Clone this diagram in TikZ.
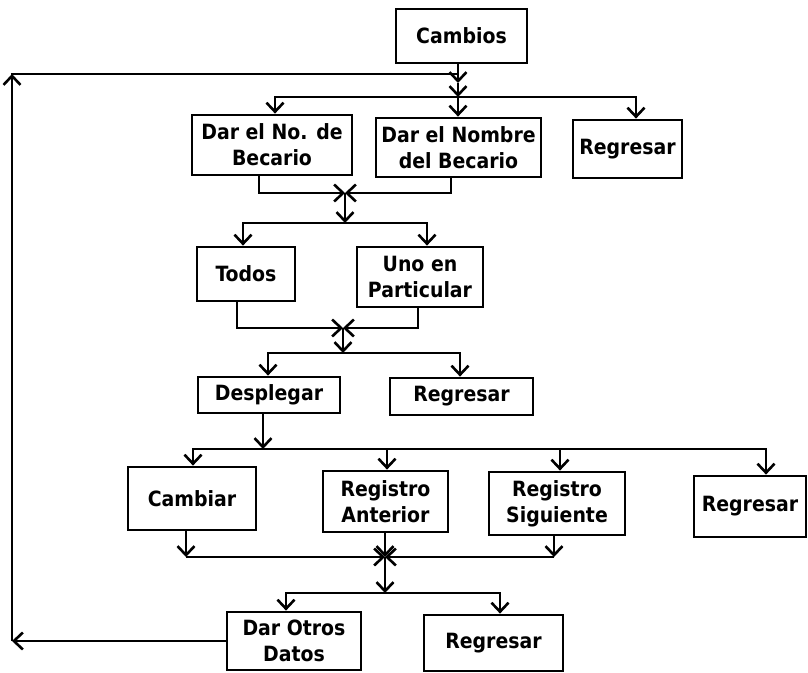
\documentclass[tikz,border=0pt]{standalone}
\usepackage{fontspec}
\setmainfont{DejaVu Sans Condensed}
\usetikzlibrary{arrows.meta}
\begin{document}
\begin{tikzpicture}[x=1pt,y=-1pt,
  box/.style={draw, line width=2.8pt, align=center, inner sep=0pt,
              font=\bfseries\fontsize{21}{26}\selectfont},
  ln/.style={line width=2.8pt, line cap=rect},
  arr/.style={line width=2.8pt, -{Straight Barb[length=9pt,width=17pt,line width=2.6pt]}}]
\useasboundingbox (0,0) rectangle (808,672);

% boxes
\node[box, minimum width=131pt, minimum height=54pt] (cam) at (461.5,36) {Cambios};
\node[box, minimum width=160pt, minimum height=60pt] (nob) at (272,145) {Dar el No. de\\Becario};
\node[box, minimum width=165pt, minimum height=59pt] (nom) at (458.5,147.5) {Dar el Nombre\\del Becario};
\node[box, minimum width=109pt, minimum height=58pt] (reg1) at (627.5,149) {Regresar};
\node[box, minimum width=98pt, minimum height=54pt] (tod) at (246,274) {Todos};
\node[box, minimum width=126pt, minimum height=60pt] (uno) at (420,277) {Uno en\\Particular};
\node[box, minimum width=142pt, minimum height=36pt] (des) at (269,395) {Desplegar};
\node[box, minimum width=143pt, minimum height=37pt] (reg2) at (461.5,396.5) {Regresar};
\node[box, minimum width=128pt, minimum height=63pt] (cbr) at (192,498.5) {Cambiar};
\node[box, minimum width=125pt, minimum height=61pt] (ant) at (385.5,501.5) {Registro\\Anterior};
\node[box, minimum width=136pt, minimum height=63pt] (sig) at (557,503.5) {Registro\\Siguiente};
\node[box, minimum width=112pt, minimum height=61pt] (reg3) at (750,506.5) {Regresar};
\node[box, minimum width=134pt, minimum height=58pt] (dod) at (294,641) {Dar Otros\\Datos};
\node[box, minimum width=139pt, minimum height=56pt] (reg4) at (493.5,643) {Regresar};

% junction points
\coordinate (J)   at (458,74);
\coordinate (Jt)  at (458,83);
\coordinate (b1)  at (458,97);
\coordinate (b1l) at (275,97);
\coordinate (b1r) at (636,97);
\coordinate (m1)  at (345,193);
\coordinate (m1l) at (259,193);
\coordinate (m1r) at (451,193);
\coordinate (b2)  at (345,223);
\coordinate (b2l) at (243,223);
\coordinate (b2r) at (427,223);
\coordinate (m2)  at (343,328);
\coordinate (m2l) at (237,328);
\coordinate (m2r) at (418,328);
\coordinate (b3)  at (343,353);
\coordinate (b3l) at (268,353);
\coordinate (b3r) at (460,353);
\coordinate (b4)  at (263,449);
\coordinate (b4l) at (193,449);
\coordinate (b4a) at (387,449);
\coordinate (b4s) at (560,449);
\coordinate (b4r) at (766,449);
\coordinate (m3)  at (385,557);
\coordinate (m3l) at (186,557);
\coordinate (m3r) at (554,557);
\coordinate (b5)  at (385,593);
\coordinate (b5l) at (286,593);
\coordinate (b5r) at (500,593);
\coordinate (BL)  at (12,641);
\coordinate (TL)  at (12,74);

% Cambios to first level
\draw[ln] (cam.south -| J) -- (J);
\draw[arr] (J) -- (Jt);
\draw[arr] (Jt) -- (b1);
\draw[ln] (b1l) -- (b1r);
\draw[arr] (b1l) -- (b1l |- nob.north);
\draw[arr] (b1) -- (b1 |- nom.north);
\draw[arr] (b1r) -- (b1r |- reg1.north);

% merge of the first level
\draw[ln] (nob.south -| m1l) -- (m1l);
\draw[ln] (nom.south -| m1r) -- (m1r);
\draw[arr] (m1l) -- (m1);
\draw[arr] (m1r) -- (m1);
\draw[arr] (m1) -- (b2);
\draw[ln] (b2l) -- (b2r);
\draw[arr] (b2l) -- (b2l |- tod.north);
\draw[arr] (b2r) -- (b2r |- uno.north);

% merge of the second level
\draw[ln] (tod.south -| m2l) -- (m2l);
\draw[ln] (uno.south -| m2r) -- (m2r);
\draw[arr] (m2l) -- (m2);
\draw[arr] (m2r) -- (m2);
\draw[arr] (m2) -- (b3);
\draw[ln] (b3l) -- (b3r);
\draw[arr] (b3l) -- (b3l |- des.north);
\draw[arr] (b3r) -- (b3r |- reg2.north);

% Desplegar to record options
\draw[arr] (des.south -| b4) -- (b4);
\draw[ln] (b4l) -- (b4r);
\draw[arr] (b4l) -- (b4l |- cbr.north);
\draw[arr] (b4a) -- (b4a |- ant.north);
\draw[arr] (b4s) -- (b4s |- sig.north);
\draw[arr] (b4r) -- (b4r |- reg3.north);

% merge of the record options
\draw[arr] (cbr.south -| m3l) -- (m3l);
\draw[arr] (sig.south -| m3r) -- (m3r);
\draw[arr] (m3l) -- (m3);
\draw[arr] (m3r) -- (m3);
\draw[arr] (ant.south -| m3) -- (m3);
\draw[arr] (m3) -- (b5);
\draw[ln] (b5l) -- (b5r);
\draw[arr] (b5l) -- (b5l |- dod.north);
\draw[arr] (b5r) -- (b5r |- reg4.north);

% loop back from Dar Otros Datos
\draw[arr] (dod.west) -- (BL);
\draw[arr] (BL) -- (TL);
\draw[ln] (TL) -- (J);
\end{tikzpicture}
\end{document}
